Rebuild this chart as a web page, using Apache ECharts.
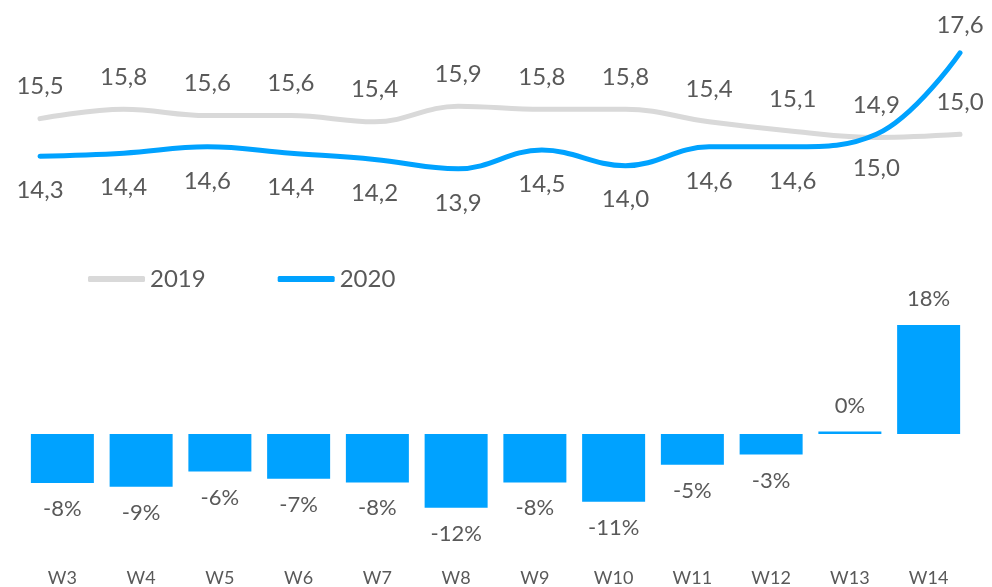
<!DOCTYPE html>
<html>
<head>
<meta charset="utf-8">
<script src="https://cdn.jsdelivr.net/npm/echarts@6/dist/echarts.min.js"></script>
<style>
    html, body { margin: 0; padding: 0; background: #fff; }
    #chart { width: 992px; height: 587px; }
</style>
</head>
<body>
<div id="chart"></div>
<script>
    // weeks on the x axis
    var weeks = ['W3', 'W4', 'W5', 'W6', 'W7', 'W8', 'W9', 'W10', 'W11', 'W12', 'W13', 'W14'];
    // weekly values per year
    var values2019 = [15.5, 15.8, 15.6, 15.6, 15.4, 15.9, 15.8, 15.8, 15.4, 15.1, 14.9, 15.0];
    var values2020 = [14.3, 14.4, 14.6, 14.4, 14.2, 13.9, 14.5, 14.0, 14.6, 14.6, 15.0, 17.6];
    // change 2020 vs 2019, in percent
    var changePct = [-8.1, -8.7, -6.2, -7.4, -8.0, -12.2, -8.0, -11.2, -5.1, -3.4, 0.4, 18.0];

    var textColor = '#595959';
    var fontFamily = 'Lato, "Noto Sans", sans-serif';
    var grey = '#d9d9d9';
    var blue = '#00a2ff';

    function commaFmt(p) {
        return p.value.toFixed(1).replace('.', ',');
    }

    // last 2020 point jumps above the 2019 line, so its label goes on top
    var data2020 = values2020.map(function (v, i) {
        if (i === values2020.length - 1) {
            return { value: v, label: { position: 'top', distance: 16 } };
        }
        return v;
    });

    var barData = changePct.map(function (v) {
        return {
            value: v,
            label: { position: v < 0 ? 'bottom' : 'top' }
        };
    });

    var chart = echarts.init(document.getElementById('chart'));
    var option = {
        animation: false,
        textStyle: { fontFamily: fontFamily },
        legend: {
            left: 83,
            top: 262,
            itemGap: 72,
            itemWidth: 57,
            itemHeight: 6,
            icon: 'roundRect',
            textStyle: { color: textColor, fontSize: 24, fontFamily: fontFamily },
            data: ['2019', '2020']
        },
        grid: [
            { left: 40, right: 32, top: 9, height: 188 },
            { left: 23, right: 24, top: 313, height: 242 }
        ],
        xAxis: [
            {
                gridIndex: 0,
                type: 'category',
                data: weeks,
                boundaryGap: false,
                show: false
            },
            {
                gridIndex: 1,
                type: 'category',
                data: weeks,
                axisLine: { show: false, onZero: false },
                axisTick: { show: false },
                axisLabel: { color: textColor, fontSize: 18, margin: 14, fontFamily: fontFamily }
            }
        ],
        yAxis: [
            { gridIndex: 0, type: 'value', min: 13, max: 19, show: false },
            { gridIndex: 1, type: 'value', min: -20, max: 20, show: false }
        ],
        series: [
            {
                name: '2019',
                type: 'line',
                xAxisIndex: 0,
                yAxisIndex: 0,
                data: values2019,
                smooth: 0.4,
                symbol: 'circle',
                symbolSize: 0.1,
                showAllSymbol: true,
                color: grey,
                lineStyle: { color: grey, width: 5, cap: 'round' },
                label: {
                    show: true,
                    position: 'top',
                    distance: 20,
                    color: textColor,
                    fontSize: 24,
                    formatter: commaFmt
                },
                labelLayout: { hideOverlap: false },
                z: 2
            },
            {
                name: '2020',
                type: 'line',
                xAxisIndex: 0,
                yAxisIndex: 0,
                data: data2020,
                smooth: 0.4,
                symbol: 'circle',
                symbolSize: 0.1,
                showAllSymbol: true,
                color: blue,
                lineStyle: { color: blue, width: 5, cap: 'round' },
                label: {
                    show: true,
                    position: 'bottom',
                    distance: 22,
                    color: textColor,
                    fontSize: 24,
                    formatter: commaFmt
                },
                labelLayout: { hideOverlap: false },
                z: 3
            },
            {
                name: 'change',
                type: 'bar',
                xAxisIndex: 1,
                yAxisIndex: 1,
                data: barData,
                barWidth: 63,
                itemStyle: { color: blue },
                label: {
                    show: true,
                    distance: 15,
                    color: textColor,
                    fontSize: 22,
                    formatter: function (p) {
                        return Math.round(p.value) + '%';
                    }
                }
            }
        ]
    };
    chart.setOption(option);
    window.addEventListener('resize', function () {
        chart.resize();
    });
</script>
</body>
</html>
